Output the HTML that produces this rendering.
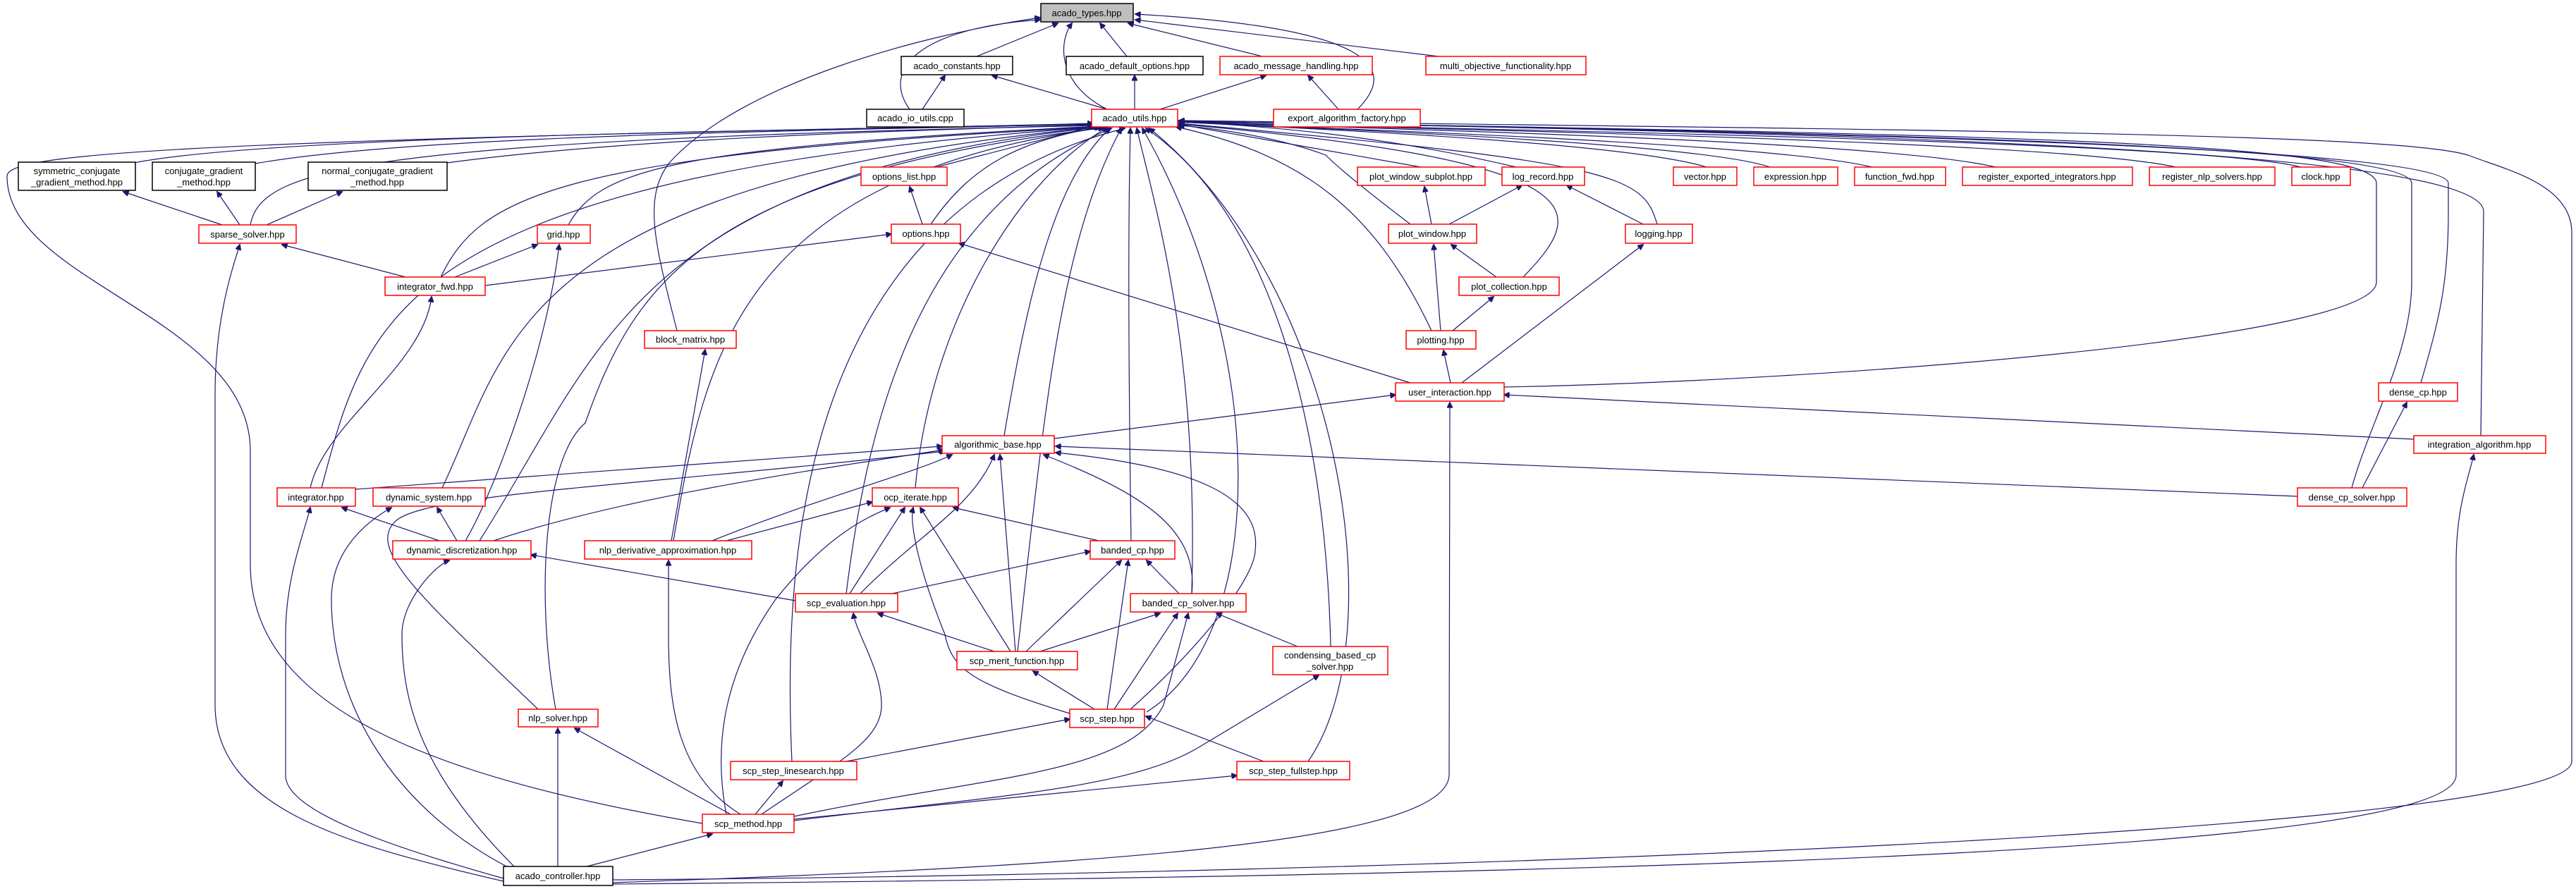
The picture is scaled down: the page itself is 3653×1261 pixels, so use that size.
<!DOCTYPE html>
<html><head><meta charset="utf-8"><style>
html,body{margin:0;padding:0;background:#fff;}
svg{display:block;}
text{font-family:"Liberation Sans",sans-serif;font-size:13px;fill:#000;text-anchor:middle;}
.r{fill:#fff;stroke:#ff0000;stroke-width:1.5;}
.k{fill:#fff;stroke:#000;stroke-width:1.5;}
.g{fill:#bfbfbf;stroke:#000;stroke-width:1.5;}
path{fill:none;stroke:#191970;stroke-width:1.2;}
</style></head><body>
<svg width="3653" height="1261" viewBox="0 0 3653 1261" xmlns="http://www.w3.org/2000/svg">
<defs><marker id="a" viewBox="0 0 10 10" refX="9" refY="5" markerWidth="10" markerHeight="8" markerUnits="userSpaceOnUse" orient="auto"><path d="M0,0 L10,5 L0,10 z" style="fill:#191970;stroke:#191970"/></marker></defs>
<g marker-end="url(#a)">
<!-- to acado_types -->
<path d="M1385,80 L1500,33"/><path d="M1598,80 L1560,33"/><path d="M1790,80 L1600,33"/><path d="M2040,80 L1610,28"/>
<path d="M1290,155 C1250,100 1300,40 1475,28"/><path d="M1570,155 C1500,120 1500,60 1520,33"/>
<path d="M1925,155 C1980,100 1960,40 1610,20"/>
<path d="M960,469 C930,350 910,280 950,230 C1050,120 1300,50 1475,25"/>
<path d="M1308,155 L1340,107"/><path d="M1570,155 L1407,107"/><path d="M1609,155 L1609,107"/>
<path d="M1645,155 L1795,107"/><path d="M1898,155 L1855,107"/>
<!-- to acado_utils -->
<path d="M190,231 C400,190 1200,185 1550,175"/>
<path d="M362,232 C600,190 1200,185 1550,176"/>
<path d="M634,231 C900,195 1300,185 1552,177"/>
<path d="M355,319 C370,240 500,200 1553,178"/>
<path d="M806,319 C850,240 950,210 1556,179"/>
<path d="M625,393 C680,280 780,220 1558,180"/>
<path d="M456,692 C520,450 560,250 1558,180"/>
<path d="M627,692 C720,500 720,260 1560,180"/>
<path d="M680,767 C850,500 900,250 1562,180"/>
<path d="M955,767 C1000,500 1050,250 1565,181"/>
<path d="M788,1006 C760,850 770,650 830,600 C900,400 1000,250 1566,181"/>
<path d="M1298,692 C1320,450 1450,250 1570,181"/>
<path d="M1424,618 C1460,400 1500,250 1574,182"/>
<path d="M1200,842 C1230,600 1300,300 1576,182"/>
<path d="M1328,237 L1555,178"/>
<path d="M1320,318 C1380,230 1450,200 1560,180"/>
<path d="M1443,924 C1480,600 1500,350 1590,182"/>
<path d="M1123,1080 C1110,800 1130,300 1595,182"/>
<path d="M1604,767 C1600,500 1600,300 1603,182"/>
<path d="M1690,842 C1700,500 1640,300 1612,182"/>
<path d="M1626,1010 C1800,900 1800,500 1620,182"/>
<path d="M1887,917 C1880,600 1800,300 1625,182"/>
<path d="M1855,1080 C1980,900 1900,400 1630,182"/>
<path d="M996,1168 C600,1100 355,1000 355,800 L355,640 C355,450 10,400 10,250 C10,220 200,200 1550,176"/>
<path d="M2015,237 L1670,176"/>
<path d="M2150,237 C1950,190 1800,180 1670,172"/>
<path d="M2000,318 C1950,280 1900,240 1880,220 C1800,190 1700,180 1672,178"/>
<path d="M2030,469 C1950,300 1850,220 1668,180"/>
<path d="M2160,393 C2250,300 2280,230 1672,176"/>
<path d="M2350,318 C2330,250 2300,230 1672,175"/>
<path d="M2420,237 C2300,200 1800,180 1672,173"/>
<path d="M2510,237 C2400,200 1800,180 1672,173"/>
<path d="M2655,237 C2500,200 1800,180 1672,173"/>
<path d="M2830,237 C2650,195 1800,180 1672,172"/>
<path d="M3085,237 C2900,195 1800,180 1672,172"/>
<path d="M3263,237 C3100,195 1800,180 1672,172"/>
<path d="M2133,549 C2600,540 3370,480 3370,400 L3370,260 C3370,200 2800,190 1672,172"/>
<path d="M3335,692 C3360,600 3420,500 3420,400 L3420,260 C3420,210 2800,190 1672,172"/>
<path d="M3433,543 C3460,450 3472,400 3472,300 L3472,260 C3472,215 2800,190 1672,172"/>
<path d="M3518,618 L3522,300 C3522,220 2800,190 1672,172"/>
<path d="M869,1248 C2000,1240 3647,1180 3647,1080 L3647,330 C3647,260 3550,240 3500,220 C3400,190 2800,185 1672,171"/>
<!-- others -->
<path d="M688,405 L1264,332"/><path d="M2000,543 L1360,345"/>
<path d="M315,319 L175,272"/><path d="M340,319 L308,272"/><path d="M378,319 L485,272"/>
<path d="M575,393 L400,347"/><path d="M645,393 L762,347"/>
<path d="M440,692 C460,600 600,520 612,421"/>
<path d="M714,1250 C500,1200 305,1150 305,1000 L305,560 C305,450 330,380 340,347"/>
<path d="M660,767 C700,700 775,500 793,347"/>
<path d="M623,767 L485,720"/><path d="M648,767 L620,720"/>
<path d="M714,1246 C550,1200 405,1150 405,1100 L405,900 C405,820 430,760 440,720"/>
<path d="M730,1235 C560,1150 470,1000 470,850 C470,780 520,740 555,720"/>
<path d="M730,1230 C600,1100 570,1000 570,900 C570,850 620,800 637,795"/>
<path d="M791,1229 L791,1033"/><path d="M832,1229 L1010,1183"/>
<path d="M1036,1155 L815,1033"/>
<path d="M1050,1155 C960,1100 948,1000 948,900 L948,795"/>
<path d="M1071,1155 L1110,1108"/>
<path d="M1200,1080 L1517,1020"/><path d="M1792,1080 L1625,1016"/>
<path d="M1126,1162 L1754,1100"/>
<path d="M1030,1155 C1010,1050 1030,950 1100,850 C1180,750 1240,730 1262,720"/>
<path d="M1080,1155 C1190,1080 1250,1050 1250,1000 C1250,950 1215,900 1210,870"/>
<path d="M1126,1158 C1400,1100 1600,1100 1650,1000 L1685,870"/>
<path d="M1126,1164 C1400,1130 1600,1120 1700,1060 L1870,958"/>
<path d="M869,1252 C1500,1230 2050,1200 2055,1100 L2056,571"/>
<path d="M869,1254 C2500,1240 3480,1200 3483,1100 L3483,800 C3483,720 3500,680 3508,645"/>
<path d="M2057,543 L2047,497"/><path d="M2073,543 L2330,347"/>
<path d="M2043,469 L2033,347"/><path d="M2060,469 L2118,421"/>
<path d="M2122,393 L2058,347"/>
<path d="M2030,318 L2020,265"/><path d="M2055,318 L2158,263"/><path d="M2330,318 L2222,263"/>
<path d="M1308,318 L1290,265"/>
<path d="M952,767 L1000,496"/>
<path d="M1495,622 L1979,560"/><path d="M3423,623 L2133,560"/>
<path d="M3258,704 L1497,633"/><path d="M3350,692 L3413,571"/>
<path d="M504,694 L1336,633"/>
<path d="M700,767 C900,700 1200,660 1338,638"/>
<path d="M1010,767 C1150,710 1300,670 1350,645"/>
<path d="M1030,767 L1237,712"/>
<path d="M763,1006 C600,850 520,780 560,740 C600,700 900,690 1340,640"/>
<path d="M1205,842 L1283,720"/><path d="M1265,842 L1546,782"/>
<path d="M1220,842 C1300,760 1380,720 1410,645"/><path d="M1128,852 L753,787"/>
<path d="M1410,924 L1245,870"/><path d="M1433,924 L1305,720"/><path d="M1455,924 L1590,795"/>
<path d="M1475,924 L1645,870"/><path d="M1440,924 L1418,645"/>
<path d="M1552,1006 L1465,952"/><path d="M1570,1006 L1600,795"/><path d="M1580,1006 L1670,870"/>
<path d="M1517,1012 C1380,970 1350,950 1340,900 C1300,800 1290,740 1295,720"/>
<path d="M1603,1006 C1700,920 1780,820 1780,780 C1790,700 1680,660 1497,642"/>
<path d="M1672,842 L1626,795"/>
<path d="M1690,842 C1700,750 1620,700 1480,645"/>
<path d="M1558,767 L1352,720"/>
<path d="M1840,917 L1725,870"/>
</g>
<!-- nodes -->
<rect class="g" x="1476" y="5" width="131" height="26"/><text x="1541" y="23">acado_types.hpp</text>
<rect class="k" x="1278" y="80" width="158" height="26"/><text x="1357" y="98">acado_constants.hpp</text>
<rect class="k" x="1512" y="80" width="194" height="26"/><text x="1609" y="98">acado_default_options.hpp</text>
<rect class="r" x="1730" y="80" width="216" height="26"/><text x="1838" y="98">acado_message_handling.hpp</text>
<rect class="r" x="2022" y="80" width="227" height="26"/><text x="2135" y="98">multi_objective_functionality.hpp</text>
<rect class="k" x="1229" y="155" width="138" height="25"/><text x="1298" y="172">acado_io_utils.cpp</text>
<rect class="r" x="1548" y="155" width="122" height="25"/><text x="1609" y="172">acado_utils.hpp</text>
<rect class="r" x="1806" y="155" width="208" height="25"/><text x="1910" y="172">export_algorithm_factory.hpp</text>
<rect class="k" x="26" y="230" width="166" height="40"/><text x="109" y="247">symmetric_conjugate</text><text x="109" y="263">_gradient_method.hpp</text>
<rect class="k" x="216" y="230" width="146" height="40"/><text x="289" y="247">conjugate_gradient</text><text x="289" y="263">_method.hpp</text>
<rect class="k" x="437" y="230" width="197" height="40"/><text x="535" y="247">normal_conjugate_gradient</text><text x="535" y="263">_method.hpp</text>
<rect class="r" x="1221" y="237" width="122" height="26"/><text x="1282" y="255">options_list.hpp</text>
<rect class="r" x="1925" y="237" width="181" height="26"/><text x="2015" y="255">plot_window_subplot.hpp</text>
<rect class="r" x="2130" y="237" width="117" height="26"/><text x="2188" y="255">log_record.hpp</text>
<rect class="r" x="2373" y="237" width="90" height="26"/><text x="2418" y="255">vector.hpp</text>
<rect class="r" x="2487" y="237" width="119" height="26"/><text x="2546" y="255">expression.hpp</text>
<rect class="r" x="2630" y="237" width="129" height="26"/><text x="2694" y="255">function_fwd.hpp</text>
<rect class="r" x="2783" y="237" width="241" height="26"/><text x="2903" y="255">register_exported_integrators.hpp</text>
<rect class="r" x="3048" y="237" width="178" height="26"/><text x="3137" y="255">register_nlp_solvers.hpp</text>
<rect class="r" x="3250" y="237" width="83" height="26"/><text x="3291" y="255">clock.hpp</text>
<rect class="r" x="282" y="319" width="138" height="26"/><text x="351" y="337">sparse_solver.hpp</text>
<rect class="r" x="762" y="319" width="75" height="26"/><text x="799" y="337">grid.hpp</text>
<rect class="r" x="1264" y="318" width="98" height="27"/><text x="1313" y="336">options.hpp</text>
<rect class="r" x="1969" y="318" width="125" height="27"/><text x="2031" y="336">plot_window.hpp</text>
<rect class="r" x="2305" y="318" width="95" height="27"/><text x="2352" y="336">logging.hpp</text>
<rect class="r" x="546" y="393" width="142" height="26"/><text x="617" y="411">integrator_fwd.hpp</text>
<rect class="r" x="2069" y="393" width="142" height="26"/><text x="2140" y="411">plot_collection.hpp</text>
<rect class="r" x="914" y="469" width="130" height="25"/><text x="979" y="486">block_matrix.hpp</text>
<rect class="r" x="1994" y="469" width="99" height="26"/><text x="2043" y="487">plotting.hpp</text>
<rect class="r" x="1979" y="543" width="154" height="26"/><text x="2056" y="561">user_interaction.hpp</text>
<rect class="r" x="3373" y="543" width="112" height="26"/><text x="3429" y="561">dense_cp.hpp</text>
<rect class="r" x="1336" y="618" width="159" height="25"/><text x="1415" y="635">algorithmic_base.hpp</text>
<rect class="r" x="3423" y="618" width="187" height="25"/><text x="3516" y="635">integration_algorithm.hpp</text>
<rect class="r" x="393" y="692" width="111" height="26"/><text x="448" y="710">integrator.hpp</text>
<rect class="r" x="529" y="692" width="159" height="26"/><text x="608" y="710">dynamic_system.hpp</text>
<rect class="r" x="1237" y="692" width="122" height="26"/><text x="1298" y="710">ocp_iterate.hpp</text>
<rect class="r" x="3258" y="692" width="155" height="26"/><text x="3335" y="710">dense_cp_solver.hpp</text>
<rect class="r" x="557" y="767" width="196" height="26"/><text x="655" y="785">dynamic_discretization.hpp</text>
<rect class="r" x="829" y="767" width="237" height="26"/><text x="947" y="785">nlp_derivative_approximation.hpp</text>
<rect class="r" x="1546" y="767" width="120" height="26"/><text x="1606" y="785">banded_cp.hpp</text>
<rect class="r" x="1128" y="842" width="145" height="26"/><text x="1200" y="860">scp_evaluation.hpp</text>
<rect class="r" x="1603" y="842" width="164" height="26"/><text x="1685" y="860">banded_cp_solver.hpp</text>
<rect class="r" x="1357" y="924" width="171" height="26"/><text x="1442" y="942">scp_merit_function.hpp</text>
<rect class="r" x="1805" y="917" width="163" height="40"/><text x="1886" y="934">condensing_based_cp</text><text x="1886" y="950">_solver.hpp</text>
<rect class="r" x="735" y="1006" width="113" height="25"/><text x="791" y="1023">nlp_solver.hpp</text>
<rect class="r" x="1517" y="1006" width="106" height="26"/><text x="1570" y="1024">scp_step.hpp</text>
<rect class="r" x="1036" y="1080" width="179" height="26"/><text x="1125" y="1098">scp_step_linesearch.hpp</text>
<rect class="r" x="1754" y="1080" width="160" height="26"/><text x="1834" y="1098">scp_step_fullstep.hpp</text>
<rect class="r" x="996" y="1155" width="130" height="26"/><text x="1061" y="1173">scp_method.hpp</text>
<rect class="k" x="714" y="1229" width="155" height="27"/><text x="791" y="1247">acado_controller.hpp</text>
</svg>
</body></html>
